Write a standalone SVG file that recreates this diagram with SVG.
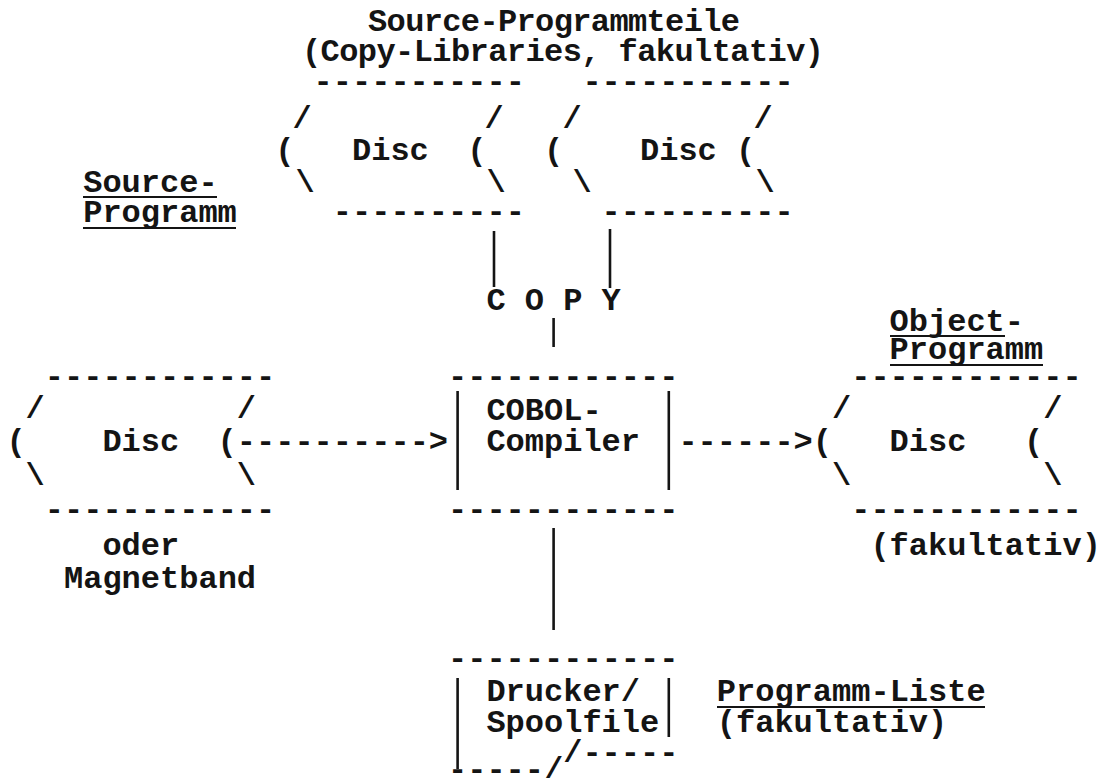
<svg xmlns="http://www.w3.org/2000/svg" width="1104" height="778" viewBox="0 0 1104 778">
<style>
.t{font-family:"Liberation Mono","DejaVu Sans Mono",monospace;font-size:32px;font-weight:bold;fill:#141414}
.m{text-anchor:middle}
.bar{stroke:#141414;stroke-width:2.6;fill:none}
.ul{stroke:#141414;stroke-width:2;fill:none}
</style>
<rect width="1104" height="778" fill="#ffffff"/>

<g id="label-copy-libraries">
<text class="t" x="368" y="31" textLength="372" lengthAdjust="spacing">Source-Programmteile</text>
<text class="t" x="302" y="61" textLength="522" lengthAdjust="spacing">(Copy-Libraries, fakultativ)</text>
</g>

<g id="disc-lib-1">
<text class="t" x="313.6" y="91">-----------</text>
<text class="t m" x="302" y="128">/</text>
<text class="t m" x="494" y="128">/</text>
<text class="t m" x="284.8" y="160">(</text>
<text class="t" x="352" y="160">Disc</text>
<text class="t m" x="476.8" y="160">(</text>
<text class="t m" x="305" y="192">\</text>
<text class="t m" x="496" y="192">\</text>
<text class="t" x="332.8" y="221">----------</text>
</g>

<g id="disc-lib-2">
<text class="t" x="582.4" y="91">-----------</text>
<text class="t m" x="572" y="128">/</text>
<text class="t m" x="763" y="128">/</text>
<text class="t m" x="553.6" y="160">(</text>
<text class="t" x="640" y="160">Disc</text>
<text class="t m" x="745.6" y="160">(</text>
<text class="t m" x="582" y="192">\</text>
<text class="t m" x="765" y="192">\</text>
<text class="t" x="601.6" y="221">----------</text>
</g>

<g id="label-source-program">
<text class="t" x="83.2" y="192">Source-</text>
<line class="ul" x1="83" y1="197" x2="217" y2="197"/>
<text class="t" x="83.2" y="222">Programm</text>
<line class="ul" x1="83" y1="228" x2="236" y2="228"/>
</g>

<g id="disc-source">
<text class="t" x="44.8" y="386">------------</text>
<text class="t m" x="35.2" y="418">/</text>
<text class="t m" x="246.4" y="418">/</text>
<text class="t m" x="16" y="451">(</text>
<text class="t" x="102.4" y="451">Disc</text>
<text class="t m" x="227.2" y="451">(</text>
<text class="t m" x="35.2" y="485">\</text>
<text class="t m" x="246.4" y="485">\</text>
<text class="t" x="44.8" y="519">------------</text>
<text class="t" x="102.4" y="555">oder</text>
<text class="t" x="64" y="588">Magnetband</text>
</g>

<g id="cobol-compiler">
<text class="t" x="448" y="386">------------</text>
<line class="bar" x1="457.6" y1="391" x2="457.6" y2="490"/>
<line class="bar" x1="668.8" y1="391" x2="668.8" y2="490"/>
<text class="t" x="486.4" y="420">COBOL-</text>
<text class="t" x="486.4" y="451">Compiler</text>
<text class="t" x="448" y="519">------------</text>
</g>

<g id="disc-object">
<text class="t" x="889.6" y="331">Object-</text>
<line class="ul" x1="890" y1="336" x2="1005" y2="336"/>
<text class="t" x="889.6" y="359">Programm</text>
<line class="ul" x1="890" y1="365" x2="1043" y2="365"/>
<text class="t" x="851.2" y="386">------------</text>
<text class="t m" x="841.6" y="418">/</text>
<text class="t m" x="1052.8" y="418">/</text>
<text class="t m" x="822.4" y="451">(</text>
<text class="t" x="889.6" y="451">Disc</text>
<text class="t m" x="1033.6" y="451">(</text>
<text class="t m" x="841.6" y="485">\</text>
<text class="t m" x="1052.8" y="485">\</text>
<text class="t" x="851.2" y="519">------------</text>
<text class="t" x="870.4" y="555">(fakultativ)</text>
</g>

<g id="printer-spoolfile">
<text class="t" x="448" y="668">------------</text>
<line class="bar" x1="457.6" y1="678" x2="457.6" y2="769"/>
<line class="bar" x1="668.8" y1="678" x2="668.8" y2="737"/>
<text class="t" x="486.4" y="701">Drucker/</text>
<text class="t" x="486.4" y="732">Spoolfile</text>
<text class="t" x="563.2" y="762">/-----</text>
<text class="t" x="448" y="779">-----/</text>
</g>

<g id="label-program-list">
<text class="t" x="716.8" y="701">Programm-Liste</text>
<line class="ul" x1="717" y1="707" x2="985" y2="707"/>
<text class="t" x="716.8" y="732">(fakultativ)</text>
</g>

<g id="connectors">
<line class="bar" x1="494" y1="231" x2="494" y2="287"/>
<line class="bar" x1="610" y1="229" x2="610" y2="288"/>
<text class="t" x="486.4" y="310">C O P Y</text>
<line class="bar" x1="553.6" y1="318" x2="553.6" y2="347"/>
<text class="t" x="236.8" y="451">----------&gt;</text>
<text class="t" x="678.4" y="451">------&gt;</text>
<line class="bar" x1="553.6" y1="528" x2="553.6" y2="630"/>
</g>
</svg>
